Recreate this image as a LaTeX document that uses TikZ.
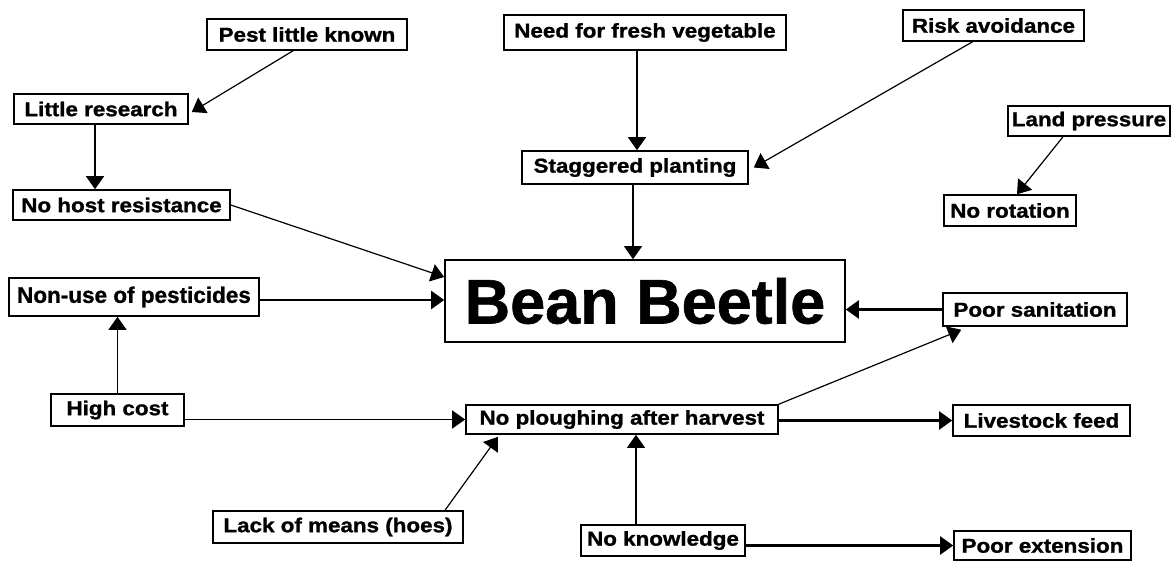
\documentclass[tikz,border=0pt]{standalone}
\usepackage{fontspec}
\setmainfont{Liberation Sans}
\newfontfamily\labfont[FakeStretch=1.12,FakeBold=1.2]{Liberation Sans Bold}
\newfontfamily\widefont[FakeBold=1]{Liberation Sans Bold}
\usetikzlibrary{arrows.meta,calc}
\tikzset{
  box/.style={draw, line width=1.6pt, inner sep=0pt, align=center,
    font=\labfont\fontsize{20}{24}\selectfont},
  arr/.style={-{Triangle[length=13pt,width=18pt]}, line width=1.2pt},
  heavyarr/.style={-{Triangle[length=13pt,width=18pt]}, line width=2.2pt},
}
\begin{document}
\begin{tikzpicture}[x=1pt,y=-1pt]
\useasboundingbox (0,0) rectangle (1172,562);
% nodes
\node[box, minimum width=200pt, minimum height=31pt] (pest) at (307,34.5) {Pest little known};
\node[box, minimum width=282pt, minimum height=35pt] (need) at (645,32.5) {Need for fresh vegetable};
\node[box, minimum width=181pt, minimum height=31pt] (risk) at (993.5,25.5) {Risk avoidance};
\node[box, minimum width=174pt, minimum height=30pt] (little) at (101,109) {Little research};
\node[box, minimum width=162pt, minimum height=30pt] (land) at (1089,121) {Land pressure};
\node[box, minimum width=226pt, minimum height=33pt] (stag) at (635,167.5) {Staggered planting};
\node[box, minimum width=132pt, minimum height=31pt] (norot) at (1010,210.5) {No rotation};
\node[box, minimum width=217pt, minimum height=30pt] (nohost) at (121.5,205) {No host resistance};
\node[box, minimum width=400pt, minimum height=82pt, font=\widefont\fontsize{63}{70}\selectfont] (bean) at (645,301) {Bean Beetle};
\node[box, minimum width=250pt, minimum height=38pt, font=\widefont\fontsize{22.5}{26}\selectfont] (nonuse) at (134,297) {Non-use of pesticides};
\node[box, minimum width=184pt, minimum height=33pt] (poorsan) at (1035,309.5) {Poor sanitation};
\node[box, minimum width=133pt, minimum height=32pt] (high) at (117.5,410) {High cost};
\node[box, minimum width=312pt, minimum height=29pt] (noplough) at (622,419.5) {No ploughing after harvest};
\node[box, minimum width=177pt, minimum height=31pt] (livestock) at (1041.5,420.5) {Livestock feed};
\node[box, minimum width=250pt, minimum height=32pt] (lack) at (338,527) {Lack of means (hoes)};
\node[box, minimum width=164pt, minimum height=31pt] (noknow) at (663,540.5) {No knowledge};
\node[box, minimum width=177pt, minimum height=29pt] (poorext) at (1042.5,545.5) {Poor extension};
% connectors
\draw[arr] ([xshift=-14pt]pest.south) -- ([xshift=3pt,yshift=-3pt]little.east);
\draw[arr] ([xshift=-6pt]little.south) -- ([xshift=-6pt]little.south |- nohost.north);
\draw[arr] (nohost.east) -- ([yshift=24pt]bean.west);
\draw[heavyarr] ([yshift=-3pt]nonuse.east) -- ([yshift=-3pt]nonuse.east -| bean.west);
\draw[arr] (high.north) -- (high.north |- nonuse.south);
\draw[arr] (high.east |- noplough.west) -- (noplough.west);
\draw[arr] ([xshift=107pt]lack.north) -- ([xshift=-124pt,yshift=-2pt]noplough.south);
\draw[arr] ([xshift=-27pt]noknow.north) -- ([xshift=-27pt]noknow.north |- noplough.south);
\draw[heavyarr] (noknow.east |- poorext.west) -- (poorext.west);
\draw[heavyarr] (noplough.east |- livestock.west) -- (livestock.west);
\draw[arr] (noplough.north east) -- ([xshift=19pt,yshift=-3pt]poorsan.south west);
\draw[heavyarr] (poorsan.west) -- (poorsan.west -| bean.east);
\draw[arr] ([xshift=2pt]stag.north |- need.south) -- ([xshift=2pt]stag.north);
\draw[arr] ([xshift=-2pt]stag.south) -- ([xshift=-2pt]stag.south |- bean.north);
\draw[arr] ([xshift=-21pt]risk.south) -- ([xshift=5pt]stag.east);
\draw[arr] ([xshift=-26pt]land.south) -- ([xshift=7pt]norot.north);
\end{tikzpicture}
\end{document}
